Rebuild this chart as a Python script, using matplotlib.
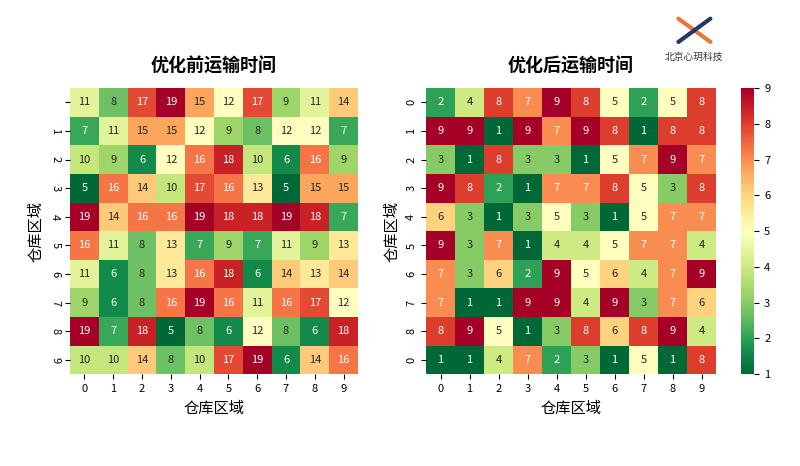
import matplotlib
matplotlib.use("Agg")
import matplotlib.pyplot as plt
import seaborn as sns
import numpy as np

plt.rcParams['font.family'] = ['Noto Sans CJK SC', 'DejaVu Sans']

# 优化前运输时间
before = np.array([
    [11, 8, 17, 19, 15, 12, 17, 9, 11, 14],
    [7, 11, 15, 15, 12, 9, 8, 12, 12, 7],
    [10, 9, 6, 12, 16, 18, 10, 6, 16, 9],
    [5, 16, 14, 10, 17, 16, 13, 5, 15, 15],
    [19, 14, 16, 16, 19, 18, 18, 19, 18, 7],
    [16, 11, 8, 13, 7, 9, 7, 11, 9, 13],
    [11, 6, 8, 13, 16, 18, 6, 14, 13, 14],
    [9, 6, 8, 16, 19, 16, 11, 16, 17, 12],
    [19, 7, 18, 5, 8, 6, 12, 8, 6, 18],
    [10, 10, 14, 8, 10, 17, 19, 6, 14, 16],
])

# 优化后运输时间
after = np.array([
    [2, 4, 8, 7, 9, 8, 5, 2, 5, 8],
    [9, 9, 1, 9, 7, 9, 8, 1, 8, 8],
    [3, 1, 8, 3, 3, 1, 5, 7, 9, 7],
    [9, 8, 2, 1, 7, 7, 8, 5, 3, 8],
    [6, 3, 1, 3, 5, 3, 1, 5, 7, 7],
    [9, 3, 7, 1, 4, 4, 5, 7, 7, 4],
    [7, 3, 6, 2, 9, 5, 6, 4, 7, 9],
    [7, 1, 1, 9, 9, 4, 9, 3, 7, 6],
    [8, 9, 5, 1, 3, 8, 6, 8, 9, 4],
    [1, 1, 4, 7, 2, 3, 1, 5, 1, 8],
])

x_labels = [str(i) for i in range(10)]
left_y_labels = ['', '1', '2', '3', '4', '5', '6', '7', '8', '9']
right_y_labels = ['0', '1', '2', '3', '4', '5', '6', '7', '8', '0']

fig = plt.figure(figsize=(8, 4.66), dpi=100, facecolor='white')
ax0 = fig.add_axes([0.0875, 0.197, 0.36, 0.614])
ax1 = fig.add_axes([0.5325, 0.197, 0.3625, 0.614])
cax = fig.add_axes([0.926, 0.197, 0.017, 0.614])

sns.heatmap(before, ax=ax0, cmap='RdYlGn_r', annot=True, fmt='d', cbar=False,
            annot_kws={'size': 8}, xticklabels=x_labels, yticklabels=left_y_labels)
sns.heatmap(after, ax=ax1, cmap='RdYlGn_r', annot=True, fmt='d', vmin=1, vmax=9,
            cbar_ax=cax, annot_kws={'size': 8}, xticklabels=x_labels,
            yticklabels=right_y_labels)

ax0.set_title('优化前运输时间', fontsize=13, fontweight='bold', pad=12)
ax1.set_title('优化后运输时间', fontsize=13, fontweight='bold', pad=12)
for ax in (ax0, ax1):
    ax.set_xlabel('仓库区域', fontsize=11)
    ax.set_ylabel('仓库区域', fontsize=11)
    ax.tick_params(axis='both', labelsize=8)
    plt.setp(ax.get_xticklabels(), rotation=0)
plt.setp(ax0.get_yticklabels(), rotation=-90, va='center')
plt.setp(ax1.get_yticklabels(), rotation=90, va='center')

cax.tick_params(labelsize=8)
cax.set_yticks(range(1, 10))

# logo
fig.text(0.868, 0.872, '北京心玥科技', fontsize=7, ha='center', color='#333333')
fig.add_artist(plt.Line2D([0.848, 0.888], [0.96, 0.91], color='#e8773a', lw=3,
                          solid_capstyle='round'))
fig.add_artist(plt.Line2D([0.848, 0.888], [0.91, 0.96], color='#233a66', lw=3,
                          solid_capstyle='round'))

fig.savefig('out.png', dpi=100)
